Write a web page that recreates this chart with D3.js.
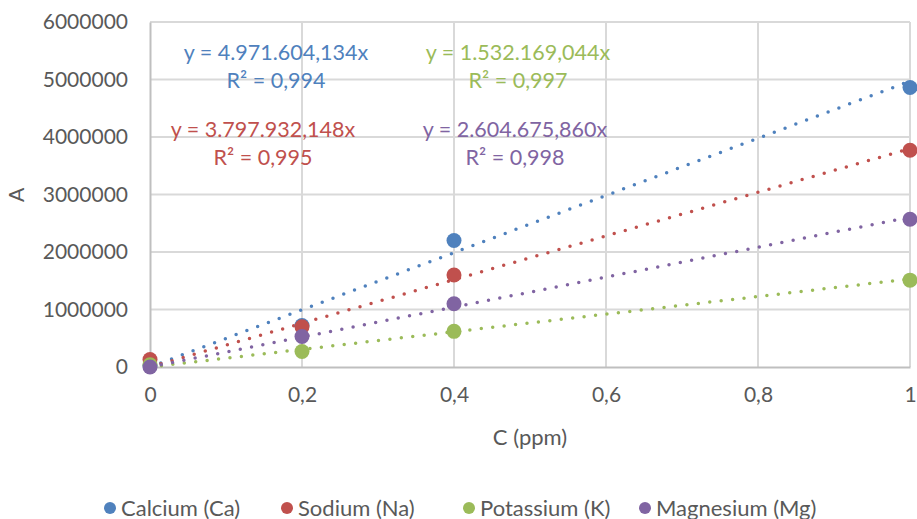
<!DOCTYPE html>
<html>
<head>
  <meta charset="utf-8">
  <style>
  body { margin: 0; background: #fff; }
  #chart text {
    font-family: Lato, "Open Sans", sans-serif;
    fill: #595959;
  }
  </style>
  <script src="https://d3js.org/d3.v7.min.js"></script>
</head>
<body>
  <svg id="chart"></svg>
  <script>

  // concentrations (ppm) and measured absorbance per element
  var conc = [0, 0.2, 0.4, 1];
  var calcium   = [30000, 720000, 2200000, 4860000];
  var sodium    = [130000, 700000, 1600000, 3770000];
  var potassium = [40000, 270000, 620000, 1510000];
  var magnesium = [0, 530000, 1100000, 2570000];

  var names  = ["Calcium (Ca)", "Sodium (Na)", "Potassium (K)", "Magnesium (Mg)"];
  var slopes = [4971604.134, 3797932.148, 1532169.044, 2604675.860];
  var eqLabels = ["y = 4.971.604,134x", "y = 3.797.932,148x", "y = 1.532.169,044x", "y = 2.604.675,860x"];
  var r2Labels = ["R² = 0,994", "R² = 0,995", "R² = 0,997", "R² = 0,998"];
  var colors = ["#4F81BD", "#C0504D", "#9BBB59", "#8064A2"];

  var yTicks = [0, 1000000, 2000000, 3000000, 4000000, 5000000, 6000000];
  var xTicks = [0, 0.2, 0.4, 0.6, 0.8, 1];
  var xTickLabels = ["0", "0,2", "0,4", "0,6", "0,8", "1"];

  var series = [calcium, sodium, potassium, magnesium];

  var width = 917,
      height = 519;

  var x = d3.scaleLinear().domain([0, 1]).range([150, 910]);
  var y = d3.scaleLinear().domain([0, 6000000]).range([367, 22]);

  var svg = d3.select("#chart")
      .attr("width", width)
      .attr("height", height);

  // gridlines
  svg.append("g").selectAll("line")
      .data(yTicks.slice(1))
    .enter().append("line")
      .attr("x1", x(0)).attr("x2", x(1))
      .attr("y1", function(d) { return y(d); })
      .attr("y2", function(d) { return y(d); })
      .attr("stroke", "#D9D9D9").attr("stroke-width", 2);

  svg.append("g").selectAll("line")
      .data(xTicks.slice(1))
    .enter().append("line")
      .attr("x1", function(d) { return x(d); })
      .attr("x2", function(d) { return x(d); })
      .attr("y1", y(0)).attr("y2", y(6000000))
      .attr("stroke", "#D9D9D9").attr("stroke-width", 2);

  // axes (labels only, plain gray lines)
  var yAxis = svg.append("g")
      .attr("transform", "translate(" + x(0) + ",0)")
      .call(d3.axisLeft(y).tickValues(yTicks).tickSize(0).tickPadding(22).tickFormat(d3.format("d")));
  var xAxis = svg.append("g")
      .attr("transform", "translate(0," + y(0) + ")")
      .call(d3.axisBottom(x).tickValues(xTicks).tickSize(0).tickPadding(20)
        .tickFormat(function(d, i) { return xTickLabels[i]; }));

  [yAxis, xAxis].forEach(function(a) {
    a.select(".domain").attr("stroke", "#BFBFBF").attr("stroke-width", 2);
    a.selectAll("text").style("font-size", "21px").attr("fill", "#595959");
  });

  svg.append("text")
      .attr("x", 530).attr("y", 445)
      .attr("text-anchor", "middle")
      .style("font-size", "22px")
      .text("C (ppm)");

  svg.append("text")
      .attr("transform", "translate(24,195) rotate(-90)")
      .attr("text-anchor", "middle")
      .style("font-size", "21px")
      .text("A");

  // trendlines through origin
  series.forEach(function(s, i) {
    svg.append("line")
        .attr("x1", x(0)).attr("y1", y(0))
        .attr("x2", x(1)).attr("y2", y(slopes[i]))
        .attr("stroke", colors[i])
        .attr("stroke-width", 3.5)
        .attr("stroke-linecap", "round")
        .attr("stroke-dasharray", "0 11.5");
  });

  // markers
  series.forEach(function(s, i) {
    svg.append("g").selectAll("circle")
        .data(s)
      .enter().append("circle")
        .attr("cx", function(d, j) { return x(conc[j]); })
        .attr("cy", function(d) { return y(d); })
        .attr("r", 7.5)
        .attr("fill", colors[i]);
  });

  // equation labels
  var eqPos = [[276, 60], [263, 137], [518, 60], [515, 137]];
  eqLabels.forEach(function(t, i) {
    svg.append("text")
        .attr("x", eqPos[i][0]).attr("y", eqPos[i][1])
        .attr("text-anchor", "middle")
        .style("font-size", "21.5px")
        .style("fill", colors[i])
        .text(t);
    svg.append("text")
        .attr("x", eqPos[i][0]).attr("y", eqPos[i][1] + 28)
        .attr("text-anchor", "middle")
        .style("font-size", "21.5px")
        .style("fill", colors[i])
        .text(r2Labels[i]);
  });

  // legend
  var legX = [110, 287, 469, 645];
  var leg = svg.append("g").selectAll("g")
      .data(names)
    .enter().append("g")
      .attr("transform", function(d, i) { return "translate(" + legX[i] + ",508)"; });
  leg.append("circle")
      .attr("r", 6)
      .attr("fill", function(d, i) { return colors[i]; });
  leg.append("text")
      .attr("x", 11).attr("y", 7.5)
      .style("font-size", "22px")
      .text(function(d) { return d; });

  </script>
</body>
</html>
